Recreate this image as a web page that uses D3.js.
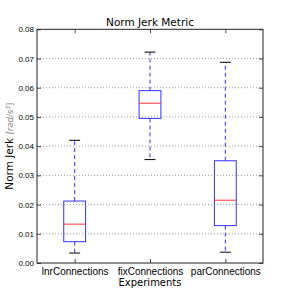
<!DOCTYPE html>
<html><head><meta charset="utf-8">
<script src="https://cdn.jsdelivr.net/npm/d3@7"></script>
<style>body{margin:0;background:#fff}svg{display:block;font-family:"DejaVu Sans",sans-serif}</style>
</head><body>
<script>
const categories = ["lnrConnections", "fixConnections", "parConnections"];
const whiskerLow = [0.0034, 0.0354, 0.0037];
const q1 = [0.0073, 0.0495, 0.0128];
const median = [0.0133, 0.0547, 0.0215];
const q3 = [0.0212, 0.0590, 0.0350];
const whiskerHigh = [0.0420, 0.0722, 0.0687];
const yTicks = [0, 0.01, 0.02, 0.03, 0.04, 0.05, 0.06, 0.07, 0.08];

const W = 293, H = 293;
const m = {l: 37, r: 30, t: 29.3, b: 30};
const svg = d3.select("body").append("svg").attr("width", W).attr("height", H);
const x = d3.scaleLinear().domain([0.5, 3.5]).range([m.l, W - m.r]);
const y = d3.scaleLinear().domain([0, 0.08]).range([H - m.b, m.t]);

// grid
svg.append("g").selectAll("line").data(yTicks.slice(1, -1)).join("line")
  .attr("x1", m.l).attr("x2", W - m.r).attr("y1", d => y(d)).attr("y2", d => y(d))
  .attr("stroke", "#555").attr("stroke-width", 0.6).attr("stroke-dasharray", "1,2");

const data = categories.map((c, i) => ({c, i: i + 1, lo: whiskerLow[i], q1: q1[i], med: median[i], q3: q3[i], hi: whiskerHigh[i]}));
const bw = 0.29 * (x(1) - x(0));
const g = svg.append("g");
data.forEach(d => {
  const cx = x(d.i);
  g.append("line").attr("x1", cx).attr("x2", cx).attr("y1", y(d.q3)).attr("y2", y(d.hi))
    .attr("stroke", "#3333ff").attr("stroke-width", 1).attr("stroke-dasharray", "4,3");
  g.append("line").attr("x1", cx).attr("x2", cx).attr("y1", y(d.q1)).attr("y2", y(d.lo))
    .attr("stroke", "#3333ff").attr("stroke-width", 1).attr("stroke-dasharray", "4,3");
  g.append("line").attr("x1", cx - bw / 4).attr("x2", cx + bw / 4).attr("y1", y(d.hi)).attr("y2", y(d.hi)).attr("stroke", "#000");
  g.append("line").attr("x1", cx - bw / 4).attr("x2", cx + bw / 4).attr("y1", y(d.lo)).attr("y2", y(d.lo)).attr("stroke", "#000");
  g.append("rect").attr("x", cx - bw / 2).attr("width", bw).attr("y", y(d.q3)).attr("height", y(d.q1) - y(d.q3))
    .attr("fill", "none").attr("stroke", "#3333ff").attr("stroke-width", 1);
  g.append("line").attr("x1", cx - bw / 2).attr("x2", cx + bw / 2).attr("y1", y(d.med)).attr("y2", y(d.med)).attr("stroke", "#ff3333");
});

// axes with inward ticks
const yAxisL = d3.axisLeft(y).tickValues(yTicks).tickFormat(d3.format(".2f")).tickSizeInner(-4).tickSizeOuter(0).tickPadding(3);
const yg = svg.append("g").attr("transform", `translate(${m.l},0)`).call(yAxisL);
const yAxisR = d3.axisRight(y).tickValues(yTicks).tickFormat("").tickSizeInner(-4).tickSizeOuter(0);
svg.append("g").attr("transform", `translate(${W - m.r},0)`).call(yAxisR);
const xAxisB = d3.axisBottom(x).tickValues([1, 2, 3]).tickFormat((d) => categories[d - 1]).tickSizeInner(-4).tickSizeOuter(0).tickPadding(5);
const xg = svg.append("g").attr("transform", `translate(0,${H - m.b})`).call(xAxisB);
const xAxisT = d3.axisTop(x).tickValues([1, 2, 3]).tickFormat("").tickSizeInner(-4).tickSizeOuter(0);
svg.append("g").attr("transform", `translate(0,${m.t})`).call(xAxisT);
svg.selectAll(".domain").remove();
svg.selectAll(".tick line").attr("stroke", "#000").attr("stroke-width", 0.7);
yg.selectAll("text").attr("font-size", 8).attr("fill", "#000");
xg.selectAll("text").attr("font-size", 10).attr("fill", "#000");

svg.append("rect").attr("x", m.l).attr("y", m.t).attr("width", W - m.r - m.l).attr("height", H - m.b - m.t)
  .attr("fill", "none").attr("stroke", "#222").attr("stroke-width", 1);

svg.append("text").attr("x", (m.l + W - m.r) / 2).attr("y", 26).attr("text-anchor", "middle").attr("font-size", 10.5).text("Norm Jerk Metric");
svg.append("text").attr("x", (m.l + W - m.r) / 2).attr("y", 286).attr("text-anchor", "middle").attr("font-size", 10).text("Experiments");
const yl = svg.append("text").attr("transform", `translate(13,${(m.t + H - m.b) / 2}) rotate(-90)`).attr("text-anchor", "middle").attr("font-size", 10.5);
yl.append("tspan").text("Norm Jerk ");
yl.append("tspan").attr("fill", "#888").attr("font-size", 8.5).attr("font-style", "italic").text("[rad/s");
yl.append("tspan").attr("fill", "#888").attr("font-size", 6).attr("font-style", "italic").attr("dy", -3.5).text("3");
yl.append("tspan").attr("fill", "#888").attr("font-size", 8.5).attr("dy", 3.5).text("]");
</script>
</body></html>
